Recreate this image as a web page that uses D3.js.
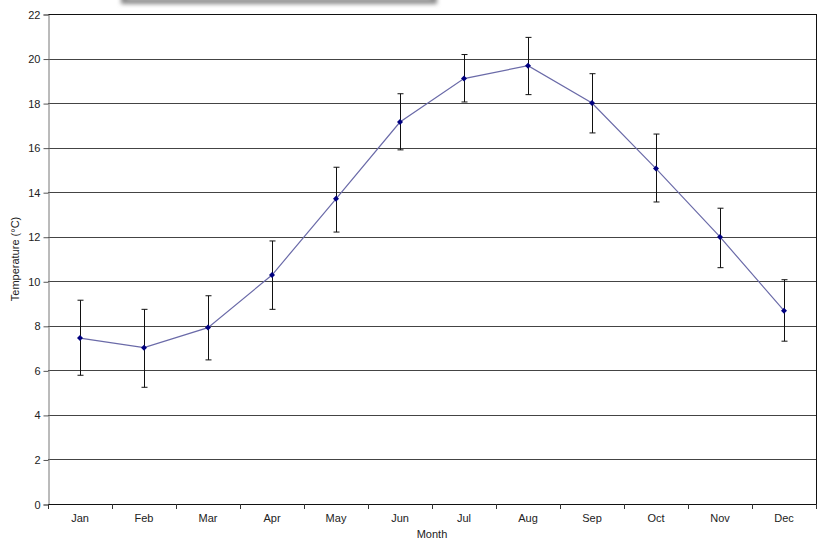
<!DOCTYPE html>
<html>
<head>
<meta charset="utf-8">
<script src="https://cdn.jsdelivr.net/npm/d3@7"></script>
<style>
html,body{margin:0;padding:0;background:#fff;}
svg{display:block;font-family:"Liberation Sans",Arial,sans-serif;}
</style>
</head>
<body>
<svg id="chart" width="821" height="543"></svg>
<script>
const months = ["Jan","Feb","Mar","Apr","May","Jun","Jul","Aug","Sep","Oct","Nov","Dec"];
const meanTemp = [7.45, 7.02, 7.92, 10.28, 13.70, 17.15, 19.10, 19.68, 18.0, 15.06, 11.99, 8.68];
const errHigh  = [9.15, 8.74, 9.35, 11.81, 15.12, 18.42, 20.18, 20.95, 19.32, 16.61, 13.28, 10.07];
const errLow   = [5.78, 5.24, 6.47, 8.74, 12.21, 15.90, 18.05, 18.38, 16.66, 13.56, 10.61, 7.31];
const yTicks = [0,2,4,6,8,10,12,14,16,18,20,22];

const svg = d3.select("#chart");
const m = {left:48, right:5, top:14, bottom:39};
const W = 821, H = 543;
const x = d3.scaleBand().domain(months).range([m.left, W - m.right]).padding(0);
const y = d3.scaleLinear().domain([0,22]).range([H - m.bottom, m.top]);

// top shadow of a cut-off box
const defs = svg.append("defs");
const f = defs.append("filter").attr("id","blur").attr("x","-20%").attr("y","-200%").attr("width","140%").attr("height","500%");
f.append("feGaussianBlur").attr("stdDeviation",2);
svg.append("rect").attr("x",121).attr("y",-12).attr("width",316).attr("height",16)
  .attr("fill","#8a8a8a").attr("filter","url(#blur)");
svg.append("rect").attr("x",127).attr("y",-20).attr("width",304).attr("height",19).attr("fill","#d8d8d8").attr("filter","url(#blur)");

// gridlines
svg.append("g").selectAll("line").data(yTicks.filter(d=>d>0 && d<22)).join("line")
  .attr("x1", m.left).attr("x2", W - m.right)
  .attr("y1", d=>Math.round(y(d))+0.5).attr("y2", d=>Math.round(y(d))+0.5)
  .attr("stroke","#444").attr("stroke-width",1);

// plot border top & right
svg.append("line").attr("x1",m.left).attr("x2",W-m.right+0.5)
  .attr("y1",Math.round(y(22))+0.5).attr("y2",Math.round(y(22))+0.5).attr("stroke","#111");
svg.append("line").attr("x1",W-m.right+0.5).attr("x2",W-m.right+0.5)
  .attr("y1",y(22)).attr("y2",y(0)).attr("stroke","#111");

// y axis
const yAxis = d3.axisLeft(y).tickValues(yTicks).tickSize(5).tickPadding(3).tickFormat(d3.format("d"));
const gy = svg.append("g").attr("transform",`translate(${m.left+0.5},0.5)`).call(yAxis);
gy.select(".domain").attr("stroke","#777");
gy.selectAll(".tick line").attr("stroke","#555");
gy.selectAll("text").attr("font-size",11).attr("fill","#222").attr("font-family","Liberation Sans, Arial, sans-serif");

// x axis
const xTickScale = d3.scaleLinear().domain([0,12]).range([m.left, W-m.right]);
svg.append("line").attr("x1",m.left).attr("x2",W-m.right+0.5)
  .attr("y1",Math.round(y(0))+0.5).attr("y2",Math.round(y(0))+0.5).attr("stroke","#111");
svg.append("g").selectAll("line").data(d3.range(13)).join("line")
  .attr("x1",d=>Math.round(xTickScale(d))+0.5).attr("x2",d=>Math.round(xTickScale(d))+0.5)
  .attr("y1",Math.round(y(0))).attr("y2",Math.round(y(0))+5).attr("stroke","#333");
svg.append("g").selectAll("text").data(months).join("text")
  .attr("x",d=>x(d)+x.bandwidth()/2).attr("y",y(0)+18)
  .attr("text-anchor","middle").attr("font-size",11).attr("fill","#222").text(d=>d);

// axis titles
svg.append("text").attr("x",(m.left+W-m.right)/2).attr("y",y(0)+34)
  .attr("text-anchor","middle").attr("font-size",11).attr("fill","#222").text("Month");
svg.append("text").attr("transform",`translate(19,${(y(0)+y(22))/2}) rotate(-90)`)
  .attr("text-anchor","middle").attr("font-size",11).attr("fill","#222").text("Temperature (°C)");

const cx = i => x(months[i]) + x.bandwidth()/2;

// line
svg.append("path").datum(meanTemp)
  .attr("d", d3.line().x((d,i)=>cx(i)).y(d=>y(d)))
  .attr("fill","none").attr("stroke","#6a6aa8").attr("stroke-width",1.2);

// error bars
const eb = svg.append("g").attr("stroke","#111").attr("stroke-width",1);
months.forEach((mo,i)=>{
  const xx = Math.round(cx(i))+0.5;
  eb.append("line").attr("x1",xx).attr("x2",xx).attr("y1",y(errLow[i])).attr("y2",y(errHigh[i]));
  eb.append("line").attr("x1",xx-3).attr("x2",xx+3).attr("y1",y(errLow[i])).attr("y2",y(errLow[i]));
  eb.append("line").attr("x1",xx-3).attr("x2",xx+3).attr("y1",y(errHigh[i])).attr("y2",y(errHigh[i]));
});

// markers (square rotated 45°)
svg.append("g").selectAll("path").data(meanTemp).join("path")
  .attr("transform",(d,i)=>`translate(${cx(i)},${y(d)}) rotate(45)`)
  .attr("d", d3.symbol().type(d3.symbolSquare).size(18))
  .attr("fill","#000080");
</script>
</body>
</html>
